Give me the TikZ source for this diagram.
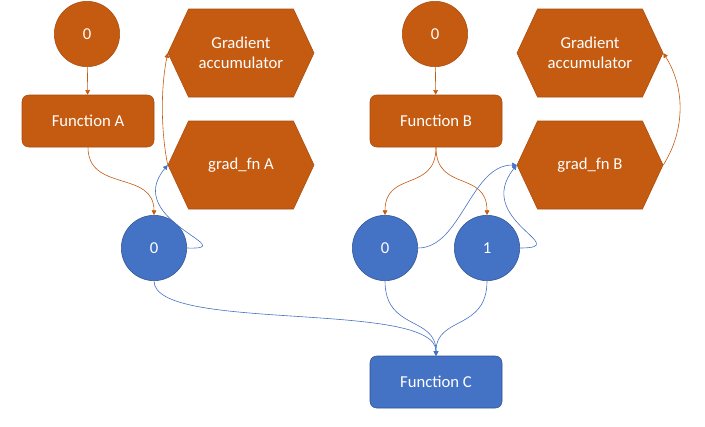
\documentclass[tikz,border=0pt]{standalone}
\usepackage{fontspec}
\setmainfont{Carlito}
\usepackage{xcolor}
\usepackage{tikz}
\usetikzlibrary{shapes.symbols, arrows.meta, positioning}

\definecolor{rust}{HTML}{C55A11}
\definecolor{rustedge}{HTML}{A84C0E}
\definecolor{steel}{HTML}{4472C4}
\definecolor{steeledge}{HTML}{2F528F}

\begin{document}
\begin{tikzpicture}[
    x=0.75pt, y=-0.75pt,
    font=\fontsize{12.5}{15}\selectfont,
    ocirc/.style={circle, draw=rustedge, fill=rust, text=white, minimum size=49pt, inner sep=0pt},
    bcirc/.style={circle, draw=steeledge, fill=steel, text=white, minimum size=49pt, inner sep=0pt},
    ofunc/.style={draw=rustedge, fill=rust, text=white, rounded corners=5pt, minimum width=99pt, minimum height=39pt},
    bfunc/.style={draw=steeledge, fill=steel, text=white, rounded corners=5pt, minimum width=99pt, minimum height=39pt},
    hexbox/.style={signal, signal to=west and east, signal pointer angle=130, draw=rustedge, fill=rust, text=white, align=center, minimum width=109.5pt, minimum height=66pt, inner sep=1pt},
    oarrow/.style={-{Triangle[length=3.5pt, width=3.5pt]}, line width=0.45pt, color=rust},
    barrow/.style={-{Triangle[length=3.5pt, width=3.5pt]}, line width=0.45pt, color=steel}
]
\useasboundingbox (0,0) rectangle (705,426);

% === GRAPH A ===
\node[ocirc] (zeroA) at (87,34) {0};
\node[ofunc] (funcA) at (88,121) {Function A};
\node[hexbox] (gaccA) at (241,53) {Gradient\\accumulator};
\node[hexbox] (gfnA) at (241,165) {grad\_fn A};
\node[bcirc] (outA) at (154,248) {0};

% === GRAPH B ===
\node[ocirc] (zeroB) at (435,34) {0};
\node[ofunc] (funcB) at (436,121) {Function B};
\node[hexbox] (gaccB) at (590,53) {Gradient\\accumulator};
\node[hexbox] (gfnB) at (590,165) {grad\_fn B};
\node[bcirc] (outBzero) at (385,248) {0};
\node[bcirc] (outBone) at (487,248) {1};

% === FUNCTION C ===
\node[bfunc] (funcC) at (436,382) {Function C};

% === FORWARD EDGES ===
\draw[oarrow] (zeroA) -- (funcA);
\draw[oarrow] (zeroB) -- (funcB);
\draw[oarrow] (funcA.south) .. controls +(0,45) and +(0,-45) .. (outA.north);
\draw[oarrow] (funcB.south) .. controls +(0,45) and +(0,-45) .. (outBzero.north);
\draw[oarrow] (funcB.south) .. controls +(0,45) and +(0,-45) .. (outBone.north);

% === GRADIENT EDGES ===
\draw[oarrow] (gfnA.west) .. controls +(-7,-35) and +(-7,35) .. (gaccA.west);
\draw[oarrow] (gfnB.east) .. controls +(22,-35) and +(22,35) .. (gaccB.east);
\draw[barrow] (outA.east) .. controls +(58,2) and +(-46,55) .. (gfnA.west);
\draw[barrow] (outBone.east) .. controls +(55,0) and +(-44,55) .. (gfnB.west);
\draw[barrow] (outBzero.east) .. controls +(43,0) and +(-46,0) .. (gfnB.west);

% === INTO FUNCTION C ===
\draw[barrow] (outA.south) .. controls +(0,52) and +(0,-56) .. (funcC.north);
\draw[barrow] (outBzero.south) .. controls +(0,50) and +(0,-40) .. (funcC.north);
\draw[barrow] (outBone.south) .. controls +(0,50) and +(0,-40) .. (funcC.north);

\end{tikzpicture}
\end{document}
